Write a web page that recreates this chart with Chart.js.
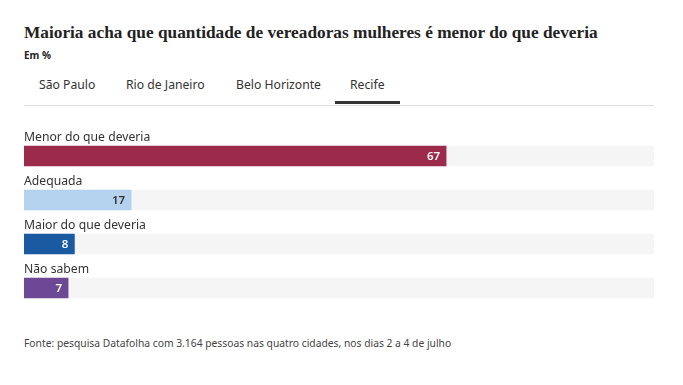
<!DOCTYPE html>
<html lang="pt-BR">
<head>
<meta charset="utf-8">
<title>Vereadoras mulheres - Recife</title>
<script src="https://cdn.jsdelivr.net/npm/chart.js@4"></script>
<style>
    html, body { margin: 0; padding: 0; background: #fff; }
    body { width: 683px; height: 385px; position: relative; overflow: hidden; font-family: "Noto Sans", sans-serif; color: #333; }
    #title { position: absolute; left: 24px; top: 23px; font-family: "Liberation Serif", serif; font-weight: bold; font-size: 17.3px; color: #222; white-space: nowrap; }
    #subtitle { position: absolute; left: 24px; top: 48px; font-size: 10px; font-weight: bold; color: #222; }
    #tabs { position: absolute; left: 24px; top: 70px; width: 630px; height: 35px; border-bottom: 1px solid #ddd; }
    .tab { position: absolute; top: 6px; font-size: 12.2px; color: #333; white-space: nowrap; }
    .tab.active::after { content: ""; position: absolute; left: -15px; right: -15px; top: 25px; height: 3px; background: #333; }
    #chartBox { position: absolute; left: 0; top: 120px; width: 683px; height: 190px; }
    #source { position: absolute; left: 24px; top: 336px; font-size: 10.3px; color: #444; white-space: nowrap; }
</style>
</head>
<body>
<div id="title">Maioria acha que quantidade de vereadoras mulheres é menor do que deveria</div>
<div id="subtitle">Em %</div>
<div id="tabs">
    <span class="tab" style="left:15px">São Paulo</span>
    <span class="tab" style="left:102px">Rio de Janeiro</span>
    <span class="tab" style="left:212px">Belo Horizonte</span>
    <span class="tab active" style="left:326px">Recife</span>
</div>
<div id="chartBox"><canvas id="chart"></canvas></div>
<div id="source">Fonte: pesquisa Datafolha com 3.164 pessoas nas quatro cidades, nos dias 2 a 4 de julho</div>
<script>
    // Data
    const categories = ['Menor do que deveria', 'Adequada', 'Maior do que deveria', 'Não sabem'];
    const values = [67, 17, 8, 7];
    const barColors = ['#9c2a4b', '#b4d2ee', '#1a5aa0', '#6c4897'];
    const valueColors = ['#fff', '#333', '#fff', '#fff'];
    const scaleMax = 100;
    const track = categories.map(() => scaleMax);

    // draws the category name above each bar and the value inside its end
    const barLabels = {
        id: 'barLabels',
        afterDatasetsDraw(chart) {
            const ctx = chart.ctx;
            const meta = chart.getDatasetMeta(1);
            ctx.save();
            meta.data.forEach((bar, i) => {
                ctx.font = '12.2px "Noto Sans", sans-serif';
                ctx.fillStyle = '#333';
                ctx.textAlign = 'left';
                ctx.textBaseline = 'alphabetic';
                ctx.fillText(categories[i], chart.chartArea.left, bar.y - 15);

                ctx.font = '600 11.5px "Noto Sans", sans-serif';
                ctx.fillStyle = valueColors[i];
                ctx.textAlign = 'right';
                ctx.textBaseline = 'middle';
                ctx.fillText(values[i], bar.x - 6, bar.y + 1);
            });
            ctx.restore();
        }
    };

    new Chart(document.getElementById('chart').getContext('2d'), {
        type: 'bar',
        data: {
            labels: categories,
            datasets: [
                {
                    data: track,
                    backgroundColor: '#f5f5f5',
                    barThickness: 20,
                    grouped: false,
                    order: 2
                },
                {
                    data: values,
                    backgroundColor: barColors,
                    barThickness: 20,
                    grouped: false,
                    order: 1
                }
            ]
        },
        options: {
            indexAxis: 'y',
            responsive: true,
            maintainAspectRatio: false,
            animation: false,
            layout: { padding: { left: 24, right: 29, top: 14, bottom: 0 } },
            scales: {
                x: { display: false, min: 0, max: scaleMax },
                y: { display: false }
            },
            plugins: {
                legend: { display: false },
                tooltip: { enabled: false }
            }
        },
        plugins: [barLabels]
    });
</script>
</body>
</html>
